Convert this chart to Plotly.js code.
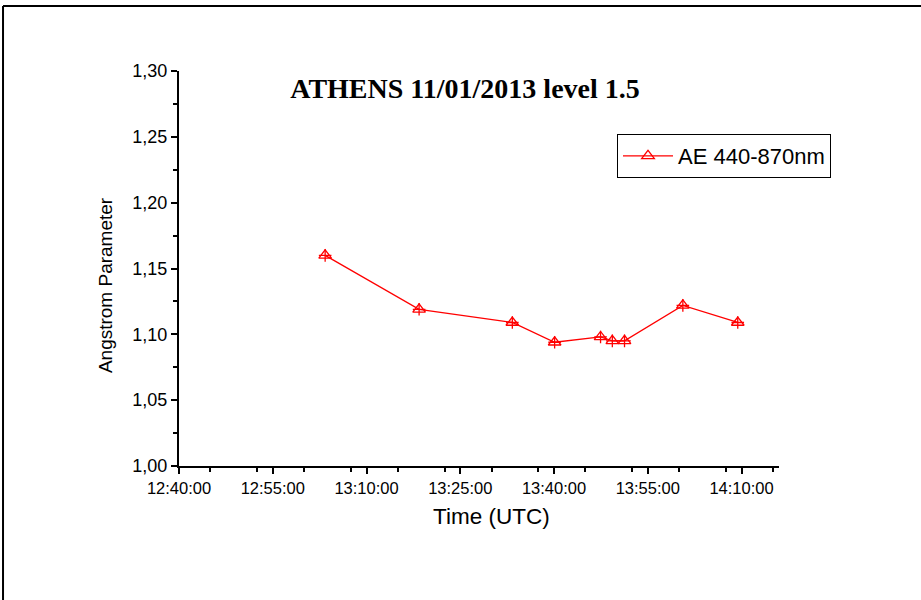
<!DOCTYPE html>
<html>
<head>
<meta charset="utf-8">
<script src="https://cdn.plot.ly/plotly-3.0.1.min.js"></script>
<style>html,body{margin:0;padding:0;background:#fff;}#chart{width:921px;height:600px;}</style>
</head>
<body>
<div id="chart"></div>
<script>
var day = '2013-01-11 ';
var times = ['13:03:23','13:18:25','13:33:20','13:40:06','13:47:27','13:49:20','13:51:17','14:00:37','14:09:24'];
var aeValues = [1.160, 1.119, 1.109, 1.094, 1.098, 1.095, 1.095, 1.122, 1.109];
var seriesName = 'AE 440-870nm';
var chartTitle = 'ATHENS 11/01/2013 level 1.5';
var xTitle = 'Time (UTC)';
var yTitle = 'Angstrom Parameter';

var xs = times.map(function(t){ return day + t; });

var traces = [
  {x: xs, y: aeValues, type: 'scatter', mode: 'lines+markers', name: seriesName,
   line: {color: '#ff0000', width: 1.3},
   marker: {symbol: 'triangle-up-open', size: 11, color: '#ff0000', line: {width: 1.3, color: '#ff0000'}}},
  {x: xs, y: aeValues, type: 'scatter', mode: 'markers', showlegend: false, hoverinfo: 'skip',
   marker: {symbol: 'cross-thin-open', size: 9, color: '#ff0000', line: {width: 1.3, color: '#ff0000'}}}
];

var layout = {
  width: 921, height: 600,
  margin: {l: 179, r: 142, t: 71, b: 134},
  paper_bgcolor: '#fff', plot_bgcolor: '#fff',
  separators: ',.',
  font: {family: 'Liberation Sans, Arial, sans-serif', color: '#000', size: 16},
  title: {text: '<b>' + chartTitle + '</b>', font: {family: 'Liberation Serif, Times New Roman, serif', size: 28, color: '#000'},
          x: 0.4767, xref: 'paper', xanchor: 'center', y: 0.853, yanchor: 'middle'},
  showlegend: true,
  legend: {x: 0.73, y: 0.8405, xanchor: 'left', yanchor: 'top', bordercolor: '#000', borderwidth: 1,
           itemwidth: 50,
           font: {size: 22, family: 'Liberation Sans, Arial, sans-serif'}, bgcolor: '#fff', tracegroupgap: 0},
  xaxis: {
    type: 'date', range: [day + '12:40:00', day + '14:16:00'],
    tick0: day + '12:40:00', dtick: 900000, tickformat: '%H:%M:%S',
    showgrid: false, zeroline: false, showline: true, linecolor: '#000', linewidth: 2,
    ticks: 'outside', ticklen: 6, tickwidth: 2, tickcolor: '#000',
    tickfont: {size: 16.5},
    minor: {dtick: 450000, ticks: 'outside', ticklen: 4, tickwidth: 2, tickcolor: '#000', showgrid: false}
  },
  yaxis: {
    range: [1.0, 1.30], dtick: 0.05, tick0: 1.0, tickformat: '.2f',
    showgrid: false, zeroline: false, showline: true, linecolor: '#000', linewidth: 2,
    ticks: 'outside', ticklen: 6, tickwidth: 2, tickcolor: '#000',
    tickfont: {size: 18},
    minor: {dtick: 0.025, ticks: 'outside', ticklen: 4, tickwidth: 2, tickcolor: '#000', showgrid: false}
  },
  annotations: [
    {text: xTitle, xref: 'paper', yref: 'paper', x: 0.52, y: -0.129, xanchor: 'center', yanchor: 'middle',
     showarrow: false, font: {size: 22.5}},
    {text: yTitle, xref: 'paper', yref: 'paper', x: -0.1233, y: 0.458, xanchor: 'center', yanchor: 'middle',
     textangle: -90, showarrow: false, font: {size: 19}}
  ],
  shapes: [
    {type: 'line', xref: 'paper', yref: 'paper', x0: -0.2933, x1: 1.3, y0: 1.1646, y1: 1.1646, line: {color: '#000', width: 2}},
    {type: 'line', xref: 'paper', yref: 'paper', x0: -0.2933, x1: -0.2933, y0: 1.1646, y1: -0.4, line: {color: '#000', width: 2}}
  ]
};

Plotly.newPlot('chart', traces, layout, {displayModeBar: false, staticPlot: true});
</script>
</body>
</html>
